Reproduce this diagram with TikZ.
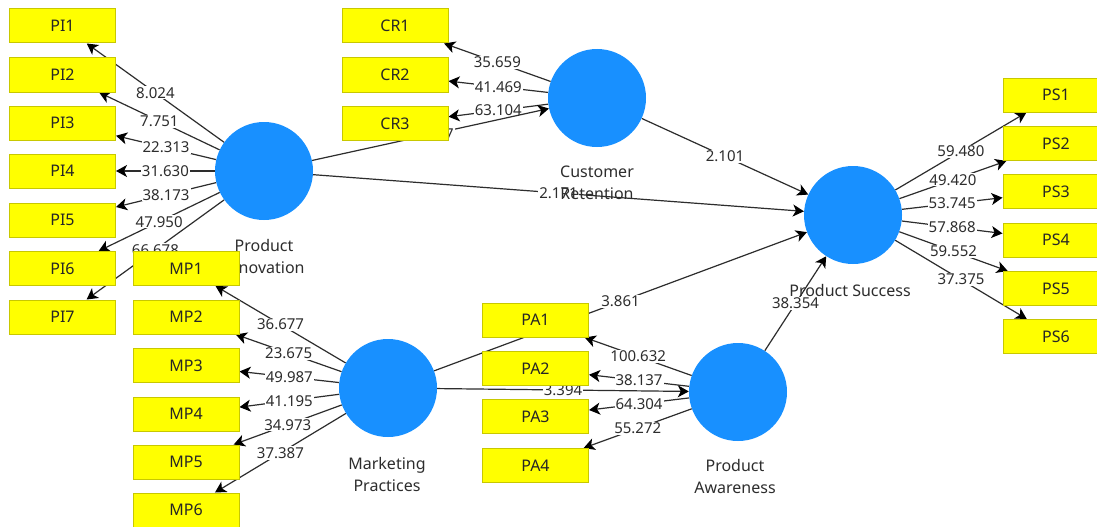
\documentclass[tikz,border=0pt]{standalone}
\usepackage{fontspec}
\setmainfont{Noto Sans}
\usetikzlibrary{arrows.meta}
\pgfdeclarelayer{paper}
\pgfdeclarelayer{edges}
\pgfdeclarelayer{names}
\pgfsetlayers{paper,edges,names,main}
\definecolor{boxyellow}{RGB}{255,255,0}
\definecolor{boxedge}{RGB}{200,200,0}
\definecolor{lvblue}{RGB}{24,144,255}
\definecolor{ink}{RGB}{45,45,45}
\tikzset{
  indbox/.style={rectangle, minimum width=106pt, minimum height=34pt, inner sep=0pt,
    fill=boxyellow, draw=boxedge, line width=1pt, font=\fontsize{16}{19}\selectfont, text=black!85},
  latent/.style={circle, minimum size=98pt, inner sep=0pt, fill=lvblue},
  lvname/.style={align=center, font=\fontsize{16}{22}\selectfont, text=ink, inner sep=0pt},
  link/.style={draw=ink, line width=1.2pt, -{Stealth[length=11pt,width=12pt,inset=3pt,color=black]}},
  val/.style={midway, fill=white, inner sep=1pt, font=\fontsize{15}{18}\selectfont, text=ink},
}
\begin{document}
\begin{tikzpicture}[x=1pt,y=-1pt]
\clip (0,0) rectangle (1097,527);
\begin{pgfonlayer}{paper}
\fill[white] (0,0) rectangle (1097,527);
\end{pgfonlayer}

% latent variables
\node[latent] (PI) at (264,171) {};
\node[latent] (CR) at (597,98) {};
\node[latent] (PS) at (853,215) {};
\node[latent] (MP) at (388,388) {};
\node[latent] (PA) at (738,392) {};

% indicators: product innovation
\node[indbox] (PI1) at (62.5,26) {PI1};
\node[indbox] (PI2) at (62.5,75) {PI2};
\node[indbox] (PI3) at (62.5,123) {PI3};
\node[indbox] (PI4) at (62.5,171) {PI4};
\node[indbox] (PI5) at (62.5,220) {PI5};
\node[indbox] (PI6) at (62.5,268.5) {PI6};
\node[indbox] (PI7) at (62.5,317) {PI7};
% indicators: marketing practices
\node[indbox] (MP1) at (186,268.5) {MP1};
\node[indbox] (MP2) at (186,317) {MP2};
\node[indbox] (MP3) at (186,365.5) {MP3};
\node[indbox] (MP4) at (186,414) {MP4};
\node[indbox] (MP5) at (186,462) {MP5};
\node[indbox] (MP6) at (186,510) {MP6};
% indicators: customer retention
\node[indbox] (CR1) at (395,26) {CR1};
\node[indbox] (CR2) at (395,75) {CR2};
\node[indbox] (CR3) at (395,123.5) {CR3};
% indicators: product awareness
\node[indbox] (PA1) at (535.5,320) {PA1};
\node[indbox] (PA2) at (535.5,368.5) {PA2};
\node[indbox] (PA3) at (535.5,416.5) {PA3};
\node[indbox] (PA4) at (535.5,465.5) {PA4};
% indicators: product success
\node[indbox] (PS1) at (1056,95) {PS1};
\node[indbox] (PS2) at (1056,143.5) {PS2};
\node[indbox] (PS3) at (1056,191.5) {PS3};
\node[indbox] (PS4) at (1056,240) {PS4};
\node[indbox] (PS5) at (1056,288.5) {PS5};
\node[indbox] (PS6) at (1056,336.5) {PS6};

% construct names
\begin{pgfonlayer}{names}
\node[lvname] (PIname) at (264,256) {Product\\Innovation};
\node[lvname] (CRname) at (597,183) {Customer\\Retention};
\node[lvname] (PSname) at (850,290) {Product Success};
\node[lvname] (MPname) at (387,474) {Marketing\\Practices};
\node[lvname] (PAname) at (735,476) {Product\\Awareness};
\end{pgfonlayer}

\begin{pgfonlayer}{edges}
% outer loadings
\draw[link] (PI) -- (PI1) node[val] {8.024};
\draw[link] (PI) -- (PI2) node[val] {7.751};
\draw[link] (PI) -- (PI3) node[val] {22.313};
\draw[link] (PI) -- (PI4) node[val] {31.630};
\draw[link] (PI) -- (PI5) node[val] {38.173};
\draw[link] (PI) -- (PI6) node[val] {47.950};
\draw[link] (PI) -- (PI7) node[val] {66.678};

\draw[link] (MP) -- (MP1) node[val] {36.677};
\draw[link] (MP) -- (MP2) node[val] {23.675};
\draw[link] (MP) -- (MP3) node[val] {49.987};
\draw[link] (MP) -- (MP4) node[val] {41.195};
\draw[link] (MP) -- (MP5) node[val] {34.973};
\draw[link] (MP) -- (MP6) node[val] {37.387};

\draw[link] (CR) -- (CR1) node[val] {35.659};
\draw[link] (CR) -- (CR2) node[val] {41.469};
\draw[link] (CR) -- (CR3) node[val] {63.104};

\draw[link] (PA) -- (PA1) node[val] {100.632};
\draw[link] (PA) -- (PA2) node[val] {38.137};
\draw[link] (PA) -- (PA3) node[val] {64.304};
\draw[link] (PA) -- (PA4) node[val] {55.272};

\draw[link] (PS) -- (PS1) node[val] {59.480};
\draw[link] (PS) -- (PS2) node[val] {49.420};
\draw[link] (PS) -- (PS3) node[val] {53.745};
\draw[link] (PS) -- (PS4) node[val] {57.868};
\draw[link] (PS) -- (PS5) node[val] {59.552};
\draw[link] (PS) -- (PS6) node[val] {37.375};

% structural paths
\draw[link] (PI) -- (CR) node[val, xshift=4pt] {2.607};
\draw[link] (PI) -- (PS) node[val] {2.171};
\draw[link] (CR) -- (PS) node[val] {2.101};
\draw[link] (MP) -- (PS) node[val] {3.861};
\draw[link] (MP) -- (PA) node[val] {3.394};
\draw[link] (PA) -- (PS) node[val] {38.354};
\end{pgfonlayer}
\end{tikzpicture}
\end{document}
